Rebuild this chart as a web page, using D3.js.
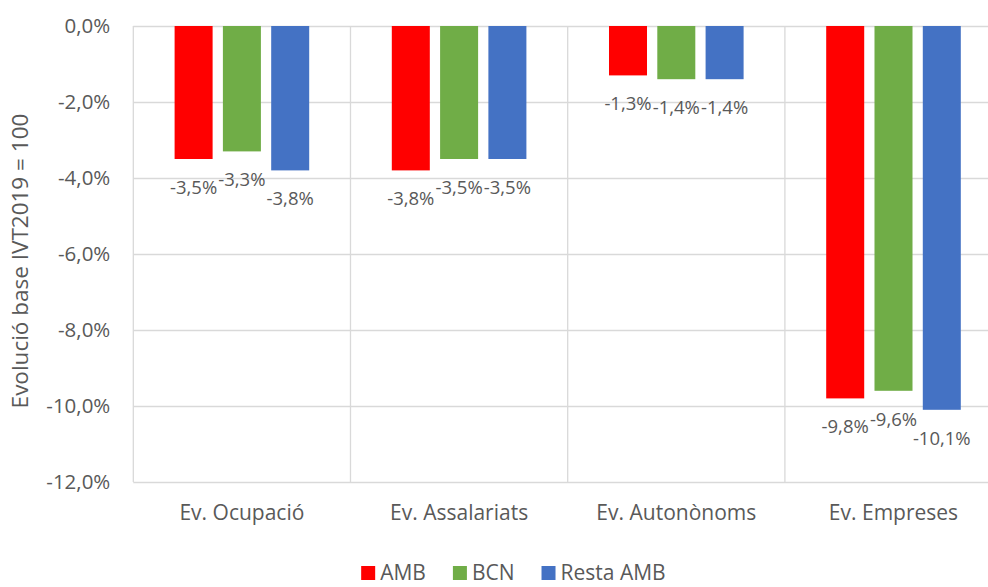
<!DOCTYPE html>
<html>
<head>
<meta charset="utf-8">
<script src="https://cdn.jsdelivr.net/npm/d3@7"></script>
<style>
  body { margin: 0; background: #fff; }
  svg { display: block; overflow: hidden; }
  text { font-family: "Open Sans", sans-serif; fill: #595959; }
</style>
</head>
<body>
<div class="chart"></div>
<script>
// data
var categories = ["Ev. Ocupació", "Ev. Assalariats", "Ev. Autonònoms", "Ev. Empreses"];
var seriesNames = ["AMB", "BCN", "Resta AMB"];
var ambValues = [-3.5, -3.8, -1.3, -9.8];
var bcnValues = [-3.3, -3.5, -1.4, -9.6];
var restaValues = [-3.8, -3.5, -1.4, -10.1];
var yTicks = [0, -2, -4, -6, -8, -10, -12];
var colors = ["#FF0000", "#70AD47", "#4472C4"];

var svgWidth = 988;
var svgHeight = 587;

var margin = { top: 26, left: 133.3 };
var catWidth = 217.2;
var width = catWidth * categories.length;   // runs past the right edge, like the original
var height = 456;

var svg = d3.select(".chart")
  .append("svg")
  .attr("width", svgWidth)
  .attr("height", svgHeight);

var chartGroup = svg.append("g")
  .attr("transform", `translate(${margin.left}, ${margin.top})`);

var rows = categories.map(function (c, i) {
  return { cat: c, values: [ambValues[i], bcnValues[i], restaValues[i]] };
});

// scales
var x0 = d3.scaleBand()
  .domain(categories)
  .range([0, width]);

var x1 = d3.scaleBand()
  .domain(seriesNames)
  .range([41.3, 175.9])
  .paddingInner(0.213);

var y = d3.scaleLinear()
  .domain([-12, 0])
  .range([height, 0]);

var fmt = function (d) { return d.toFixed(1).replace(".", ",") + "%"; };

// horizontal gridlines + tick labels
var yAxis = d3.axisLeft(y)
  .tickValues(yTicks)
  .tickFormat(fmt)
  .tickSize(-width)
  .tickPadding(23);

var yAxisG = chartGroup.append("g").call(yAxis);
yAxisG.select(".domain").remove();
yAxisG.selectAll(".tick line")
  .attr("stroke", "#d9d9d9")
  .attr("stroke-width", 1.3);
yAxisG.selectAll(".tick text")
  .style("font-size", "20.5px")
  .attr("fill", "#595959");

// vertical gridlines at category boundaries
var bounds = categories.map(function (c) { return x0(c); }).concat([width]);
chartGroup.selectAll(".vgrid")
  .data(bounds)
  .enter()
  .append("line")
  .attr("class", "vgrid")
  .attr("x1", d => d)
  .attr("x2", d => d)
  .attr("y1", 0)
  .attr("y2", height)
  .attr("stroke", "#d9d9d9")
  .attr("stroke-width", 1.3);

// category labels
var xAxis = d3.axisBottom(x0).tickSize(0).tickPadding(23);
var xAxisG = chartGroup.append("g")
  .attr("transform", `translate(0, ${height})`)
  .call(xAxis);
xAxisG.select(".domain").remove();
xAxisG.selectAll(".tick text")
  .style("font-size", "21px")
  .attr("fill", "#595959");

// bars
var groups = chartGroup.selectAll(".cat")
  .data(rows)
  .enter()
  .append("g")
  .attr("class", "cat")
  .attr("transform", d => `translate(${x0(d.cat)}, 0)`);

var barData = function (d) {
  return d.values.map(function (v, i) { return { name: seriesNames[i], value: v, i: i }; });
};

groups.selectAll("rect")
  .data(barData)
  .enter()
  .append("rect")
  .attr("x", d => x1(d.name))
  .attr("y", y(0))
  .attr("width", x1.bandwidth())
  .attr("height", d => y(d.value) - y(0))
  .attr("fill", d => colors[d.i]);

// data labels
groups.selectAll(".lbl")
  .data(barData)
  .enter()
  .append("text")
  .attr("class", "lbl")
  .attr("x", d => x1(d.name) + x1.bandwidth() / 2)
  .attr("y", d => y(d.value) + 28.5)
  .attr("dy", "0.35em")
  .attr("text-anchor", "middle")
  .style("font-size", "18.5px")
  .attr("fill", "#404040")
  .text(d => fmt(d.value));

// y axis title
svg.append("text")
  .attr("transform", "translate(28, 261) rotate(-90)")
  .attr("text-anchor", "middle")
  .style("font-size", "22.5px")
  .attr("fill", "#595959")
  .text("Evolució base IVT2019 = 100");

// legend (kept just inside the bottom edge)
var legend = svg.append("g");
var lx = 0;
seriesNames.forEach(function (name, i) {
  var item = legend.append("g").attr("transform", `translate(${lx}, 0)`);
  item.append("rect")
    .attr("x", 0)
    .attr("y", -14)
    .attr("width", 14)
    .attr("height", 14)
    .attr("fill", colors[i]);
  var t = item.append("text")
    .attr("x", 19)
    .attr("y", 0)
    .style("font-size", "21px")
    .attr("fill", "#595959")
    .text(name);
  lx += 19 + t.node().getComputedTextLength() + 27;
});
var legendWidth = lx - 27;
legend.attr("transform", `translate(${513.4 - legendWidth / 2}, 580)`);
</script>
</body>
</html>
